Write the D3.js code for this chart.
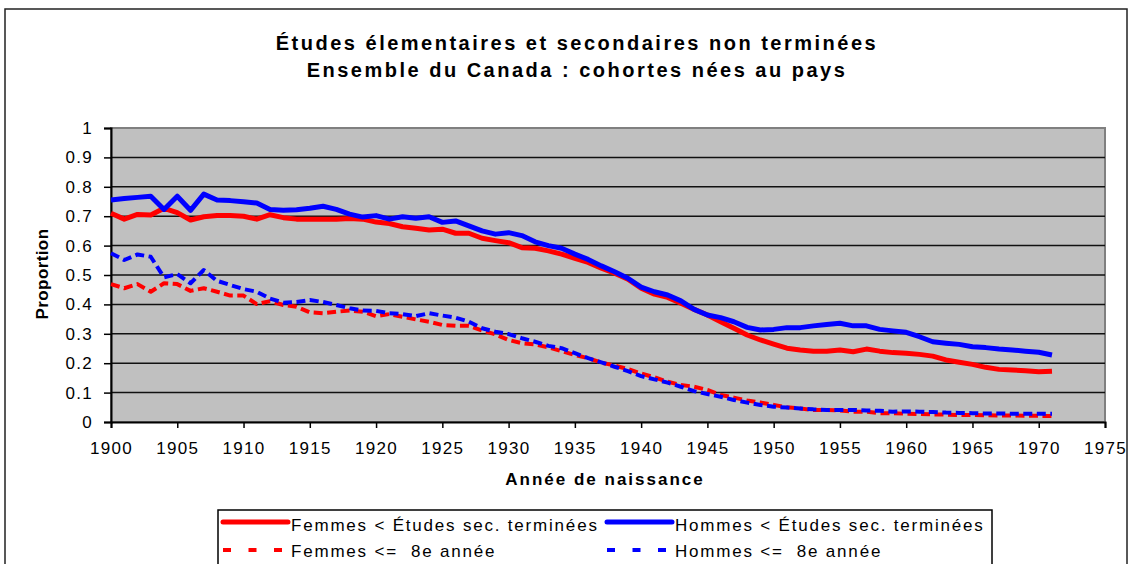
<!DOCTYPE html>
<meta charset="UTF-8">
<head>
    <title>Études élementaires et secondaires non terminées</title>
</head>
<body style="margin:0;background:#fff">
<svg width="1131" height="564" font-family="'Liberation Sans', Arial, sans-serif"></svg>
<script src="https://d3js.org/d3.v7.min.js"></script>
<script>

// Données (1900 à 1971).
var annees = d3.range(1900, 1972);

var femmesSec = [0.71, 0.69, 0.706, 0.704, 0.727, 0.712, 0.687, 0.698, 0.702, 0.702,
    0.70, 0.69, 0.705, 0.695, 0.69, 0.69, 0.69, 0.69, 0.692, 0.69,
    0.68, 0.675, 0.664, 0.659, 0.653, 0.656, 0.642, 0.642, 0.625, 0.617,
    0.61, 0.593, 0.591, 0.582, 0.571, 0.557, 0.543, 0.523, 0.506, 0.486,
    0.455, 0.435, 0.424, 0.404, 0.383, 0.364, 0.341, 0.319, 0.296, 0.279,
    0.265, 0.251, 0.245, 0.241, 0.241, 0.245, 0.239, 0.248, 0.241, 0.236,
    0.234, 0.23, 0.224, 0.211, 0.203, 0.196, 0.186, 0.179, 0.177, 0.174,
    0.171, 0.173];

var hommesSec = [0.755, 0.76, 0.764, 0.768, 0.723, 0.768, 0.72, 0.775, 0.755, 0.753,
    0.749, 0.745, 0.723, 0.72, 0.722, 0.727, 0.734, 0.723, 0.707, 0.697,
    0.702, 0.69, 0.698, 0.693, 0.698, 0.679, 0.684, 0.667, 0.65, 0.639,
    0.644, 0.634, 0.613, 0.6, 0.591, 0.571, 0.553, 0.531, 0.511, 0.489,
    0.459, 0.443, 0.432, 0.412, 0.383, 0.364, 0.355, 0.341, 0.322, 0.313,
    0.315, 0.321, 0.321, 0.327, 0.332, 0.336, 0.327, 0.327, 0.315, 0.31,
    0.305, 0.29, 0.273, 0.268, 0.264, 0.256, 0.253, 0.248, 0.245, 0.241,
    0.237, 0.228];

var femmes8 = [0.469, 0.455, 0.469, 0.443, 0.472, 0.469, 0.446, 0.455, 0.443, 0.43,
    0.43, 0.401, 0.411, 0.398, 0.392, 0.373, 0.37, 0.375, 0.379, 0.375,
    0.36, 0.367, 0.358, 0.349, 0.341, 0.33, 0.327, 0.327, 0.311, 0.298,
    0.279, 0.268, 0.264, 0.254, 0.241, 0.228, 0.217, 0.202, 0.192, 0.18,
    0.165, 0.152, 0.137, 0.126, 0.12, 0.109, 0.092, 0.083, 0.073, 0.066,
    0.058, 0.05, 0.046, 0.041, 0.041, 0.039, 0.035, 0.035, 0.03, 0.03,
    0.028, 0.027, 0.026, 0.025, 0.024, 0.024, 0.023, 0.022, 0.022, 0.021,
    0.021, 0.02];

var hommes8 = [0.574, 0.551, 0.57, 0.562, 0.492, 0.503, 0.472, 0.517, 0.48, 0.466,
    0.452, 0.443, 0.42, 0.406, 0.408, 0.415, 0.408, 0.398, 0.387, 0.379,
    0.378, 0.37, 0.367, 0.36, 0.37, 0.362, 0.355, 0.341, 0.319, 0.307,
    0.299, 0.285, 0.273, 0.259, 0.251, 0.234, 0.217, 0.203, 0.188, 0.173,
    0.156, 0.145, 0.134, 0.12, 0.105, 0.095, 0.086, 0.075, 0.066, 0.058,
    0.052, 0.049, 0.046, 0.043, 0.041, 0.041, 0.041, 0.039, 0.038, 0.035,
    0.036, 0.035, 0.034, 0.032, 0.031, 0.03, 0.029, 0.029, 0.028, 0.028,
    0.028, 0.028];

var xTicks = [1900, 1905, 1910, 1915, 1920, 1925, 1930, 1935, 1940, 1945, 1950, 1955, 1960, 1965, 1970, 1975];
var yTicks = [0, 0.1, 0.2, 0.3, 0.4, 0.5, 0.6, 0.7, 0.8, 0.9, 1];

var series = [
    {nom: "Femmes < Études sec. terminées", valeurs: femmesSec, couleur: "#ff0000", tirets: null},
    {nom: "Hommes < Études sec. terminées", valeurs: hommesSec, couleur: "#0000ff", tirets: null},
    {nom: "Femmes <=  8e année", valeurs: femmes8, couleur: "#ff0000", tirets: "9,4.5"},
    {nom: "Hommes <=  8e année", valeurs: hommes8, couleur: "#0000ff", tirets: "9,4.5"}
];

var svg = d3.select("svg");

// Cadre extérieur du graphique
svg.append("rect")
    .attr("x", 5).attr("y", 9)
    .attr("width", 1122).attr("height", 600)
    .attr("fill", "#fff").attr("stroke", "#222").attr("stroke-width", 1.5);

// Zone de tracé
var x = d3.scaleLinear().domain([1900, 1975]).range([111, 1105]);
var y = d3.scaleLinear().domain([0, 1]).range([422, 128]);

svg.append("rect")
    .attr("x", x(1900)).attr("y", y(1))
    .attr("width", x(1975) - x(1900)).attr("height", y(0) - y(1))
    .attr("fill", "#c0c0c0")
    .attr("stroke", "#808080").attr("stroke-width", 2);

// Quadrillage horizontal
svg.append("g")
    .selectAll("line")
    .data(yTicks.filter(function(d) { return d > 0 && d < 1; }))
    .enter().append("line")
    .attr("x1", x(1900)).attr("x2", x(1975))
    .attr("y1", function(d) { return y(d); })
    .attr("y2", function(d) { return y(d); })
    .attr("stroke", "#111").attr("stroke-width", 1.5);

// Axes
var axeY = svg.append("g")
    .attr("transform", "translate(" + x(1900) + ",0)")
    .call(d3.axisLeft(y).tickValues(yTicks).tickSize(7).tickPadding(11)
        .tickFormat(function(d) { return d3.format("")(+d.toFixed(1)); }));

var axeX = svg.append("g")
    .attr("transform", "translate(0," + y(0) + ")")
    .call(d3.axisBottom(x).tickValues(xTicks).tickSize(6).tickPadding(14)
        .tickFormat(d3.format("d")));

[axeY, axeX].forEach(function(a) {
    a.select(".domain").attr("stroke", "#000").attr("stroke-width", 2);
    a.selectAll(".tick line").attr("stroke", "#000").attr("stroke-width", 1.5);
    a.selectAll("text").attr("font-size", 17).attr("fill", "#000")
        .attr("letter-spacing", 1.3)
        .attr("font-family", "'Liberation Sans', Arial, sans-serif");
});

// Courbes
var ligne = d3.line()
    .x(function(d, i) { return x(annees[i]); })
    .y(function(d) { return y(d); });

svg.append("g")
    .selectAll("path")
    .data(series)
    .enter().append("path")
    .attr("d", function(s) { return ligne(s.valeurs); })
    .attr("fill", "none")
    .attr("stroke", function(s) { return s.couleur; })
    .attr("stroke-width", function(s) { return s.tirets ? 4 : 5; })
    .attr("stroke-dasharray", function(s) { return s.tirets; })
    .attr("stroke-linejoin", "round");

// Titres
svg.append("text")
    .attr("x", 577).attr("y", 50)
    .attr("text-anchor", "middle")
    .attr("font-size", 20).attr("font-weight", "bold")
    .attr("letter-spacing", 2.5)
    .text("Études élementaires et secondaires non terminées");

svg.append("text")
    .attr("x", 577).attr("y", 77)
    .attr("text-anchor", "middle")
    .attr("font-size", 20).attr("font-weight", "bold")
    .attr("letter-spacing", 2.5)
    .text("Ensemble du Canada : cohortes nées au pays");

svg.append("text")
    .attr("x", 605).attr("y", 485)
    .attr("text-anchor", "middle")
    .attr("font-size", 17).attr("font-weight", "bold")
    .attr("letter-spacing", 2)
    .text("Année de naissance");

svg.append("text")
    .attr("transform", "translate(48,274) rotate(-90)")
    .attr("text-anchor", "middle")
    .attr("font-size", 17).attr("font-weight", "bold")
    .attr("letter-spacing", 0.4)
    .text("Proportion");

// Légende
var legende = svg.append("g");
legende.append("rect")
    .attr("x", 218).attr("y", 510)
    .attr("width", 774).attr("height", 70)
    .attr("fill", "#fff").attr("stroke", "#000").attr("stroke-width", 1.5);

// [x, y de la ligne, décalage de la ligne de base du texte]
var posLegende = [[223, 522, 9], [607, 522, 9], [223, 550, 7], [607, 550, 7]];

var item = legende.selectAll("g.item")
    .data(series)
    .enter().append("g")
    .attr("class", "item")
    .attr("transform", function(s, i) { return "translate(" + posLegende[i][0] + "," + posLegende[i][1] + ")"; });

item.append("line")
    .attr("x1", 0).attr("x2", 65)
    .attr("stroke", function(s) { return s.couleur; })
    .attr("stroke-width", function(s) { return s.tirets ? 4 : 5; })
    .attr("stroke-dasharray", function(s) { return s.tirets ? "8,17.5" : null; })
    .attr("stroke-linecap", function(s) { return s.tirets ? "butt" : "round"; });

item.append("text")
    .attr("x", 68)
    .attr("y", function(s, i) { return posLegende[i][2]; })
    .attr("font-size", 17)
    .attr("letter-spacing", 1.8)
    .attr("xml:space", "preserve")
    .style("white-space", "pre")
    .text(function(s) { return s.nom; });

</script>
</body>
